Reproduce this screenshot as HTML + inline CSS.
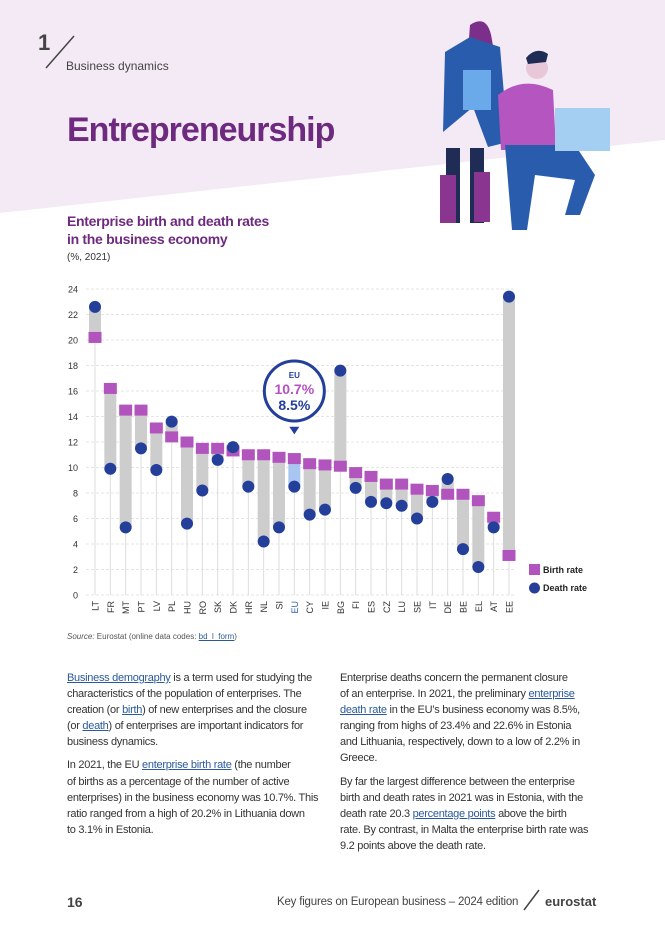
<!DOCTYPE html>
<html><head><meta charset="utf-8">
<style>
body{margin:0;width:665px;height:944px;position:relative;background:#fff;font-family:"Liberation Sans",sans-serif;overflow:hidden}
.abs{position:absolute}
p{margin:0}
.col{position:absolute;font-size:11px;line-height:16.1px;color:#333;letter-spacing:-0.28px;white-space:nowrap}
a{color:#2a5a9a;text-decoration:underline}
</style></head><body>
<svg class="abs" style="left:0;top:0" width="665" height="260">
<polygon points="0,0 665,0 665,140 0,213" fill="#f4eaf5"/>
<line x1="46" y1="68" x2="74" y2="36" stroke="#444" stroke-width="1.5"/>
<g>
<path d="M470,25 q18,-12 22,15 l5,30 -30,-5z" fill="#7b2f8a"/>
<path d="M445,52 l25,-15 l30,10 l8,95 l-20,5 l-15,-40 l-30,25z" fill="#2a5cad"/>
<rect x="463" y="70" width="28" height="40" fill="#6aa9ea"/>
<rect x="446" y="148" width="14" height="75" fill="#1f2c55"/>
<rect x="470" y="148" width="14" height="75" fill="#1f2c55"/>
<rect x="440" y="175" width="16" height="48" fill="#8a3590"/>
<rect x="474" y="172" width="16" height="50" fill="#8a3590"/>
<circle cx="537" cy="68" r="11" fill="#e8c8d8"/>
<path d="M526,58 q10,-12 22,-4 l-2,8 -18,2z" fill="#1f2c55"/>
<path d="M498,95 q25,-20 55,-5 l3,60 -55,0z" fill="#b455c0"/>
<path d="M505,145 l70,0 l20,30 l-15,40 l-15,0 l10,-35 l-40,-5 l-8,55 l-15,0z" fill="#2a5cad"/>
<rect x="555" y="108" width="55" height="43" fill="#a5cff2"/>
</g>
</svg>
<div class="abs" style="left:38px;top:30px;font-size:22px;font-weight:bold;color:#444">1</div>
<div class="abs" style="left:66px;top:59px;font-size:12px;color:#444">Business dynamics</div>
<div class="abs" style="left:67px;top:111px;font-size:34px;font-weight:bold;color:#6e2a7e;letter-spacing:-1px">Entrepreneurship</div>
<div class="abs" style="left:67px;top:212px;font-size:14px;font-weight:bold;color:#6e2a7e;line-height:18px;letter-spacing:-0.3px">Enterprise birth and death rates<br>in the business economy</div>
<div class="abs" style="left:67px;top:252px;font-size:10px;color:#333">(%, 2021)</div>

<svg id="chart" class="abs" style="left:0;top:270px" width="665" height="370"></svg>

<div class="abs" style="left:67px;top:632px;font-size:8px;color:#555"><i>Source:</i> Eurostat (online data codes: <a>bd_l_form</a>)</div>

<div class="col" style="left:67px;top:670px;width:262px">
<p style="margin-bottom:7px"><a>Business demography</a> is a term used for studying the<br>characteristics of the population of enterprises. The<br>creation (or <a>birth</a>) of new enterprises and the closure<br>(or <a>death</a>) of enterprises are important indicators for<br>business dynamics.</p>
<p>In 2021, the EU <a>enterprise birth rate</a> (the number<br>of births as a percentage of the number of active<br>enterprises) in the business economy was 10.7%. This<br>ratio ranged from a high of 20.2% in Lithuania down<br>to 3.1% in Estonia.</p>
</div>
<div class="col" style="left:340px;top:670px;width:262px">
<p style="margin-bottom:7px">Enterprise deaths concern the permanent closure<br>of an enterprise. In 2021, the preliminary <a>enterprise<br>death rate</a> in the EU’s business economy was 8.5%,<br>ranging from highs of 23.4% and 22.6% in Estonia<br>and Lithuania, respectively, down to a low of 2.2% in<br>Greece.</p>
<p>By far the largest difference between the enterprise<br>birth and death rates in 2021 was in Estonia, with the<br>death rate 20.3 <a>percentage points</a> above the birth<br>rate. By contrast, in Malta the enterprise birth rate was<br>9.2 points above the death rate.</p>
</div>
<div class="abs" style="left:67px;top:894px;font-size:14px;font-weight:bold;color:#444">16</div>
<div class="abs" style="left:277px;top:896px;font-size:11.5px;letter-spacing:-0.2px;color:#444;white-space:nowrap">Key figures on European business – 2024 edition</div>
<svg class="abs" style="left:522px;top:888px" width="20" height="24"><line x1="2" y1="22" x2="17" y2="2" stroke="#444" stroke-width="1.5"/></svg>
<div class="abs" style="left:545px;top:894px;font-size:13px;font-weight:bold;color:#444">eurostat</div>

<script>
const countries=["LT","FR","MT","PT","LV","PL","HU","RO","SK","DK","HR","NL","SI","EU","CY","IE","BG","FI","ES","CZ","LU","SE","IT","DE","BE","EL","AT","EE"];
const birthRates=[20.2,16.2,14.5,14.5,13.1,12.4,12.0,11.5,11.5,11.3,11.0,11.0,10.8,10.7,10.3,10.2,10.1,9.6,9.3,8.7,8.7,8.3,8.2,7.9,7.9,7.4,6.1,3.1];
const deathRates=[22.6,9.9,5.3,11.5,9.8,13.6,5.6,8.2,10.6,11.6,8.5,4.2,5.3,8.5,6.3,6.7,17.6,8.4,7.3,7.2,7.0,6.0,7.3,9.1,3.6,2.2,5.3,23.4];
const yTicks=[0,2,4,6,8,10,12,14,16,18,20,22,24];
const NS="http://www.w3.org/2000/svg";
const svg=document.getElementById('chart');
const y0=325,yTop=19,yMax=24;
const y=v=>y0-(v/yMax)*(y0-yTop);
const x=i=>95+i*(509-95)/(countries.length-1);
function mk(t,a){const e=document.createElementNS(NS,t);for(const k in a)e.setAttribute(k,a[k]);svg.appendChild(e);return e;}
yTicks.forEach(t=>{
  const g=mk('line',{x1:86,x2:516,y1:y(t),y2:y(t),stroke:'#ddd','stroke-dasharray':'3,2','stroke-width':0.8});
  
  
  const l=mk('text',{x:78,y:y(t)+3.5,'text-anchor':'end','font-size':9,fill:'#333'});
  l.textContent=t;
  
  
});
countries.forEach((c,i)=>{
  const b=birthRates[i],d=deathRates[i],lo=Math.min(b,d),hi=Math.max(b,d),cx=x(i);
  const st=mk('line',{x1:cx,x2:cx,y1:y0,y2:y(lo),stroke:'#ddd','stroke-width':1});
  
  
  const r=mk('rect',{x:cx-6,y:y(hi),width:12,height:y(lo)-y(hi),fill:c==='EU'?'#a9c6f0':'#cdcdcd'});
  
  
  const s=mk('rect',{x:cx-6.5,y:y(b)-5.5,width:13,height:11,fill:'#b254bd'});
  
  
  const ci=mk('circle',{cx:cx,cy:y(d),r:6,fill:'#233f9a'});
  
  
  const tl=mk('text',{x:0,y:0,'font-size':9,fill:c==='EU'?'#2a5cad':'#333','text-anchor':'end',transform:`translate(${cx+3.5},${y0+6}) rotate(-90)`});
  tl.textContent=c;
  
  
});
const ei=countries.indexOf('EU'),ex=x(ei);
const cb=mk('path',{d:`M${ex-5},${y(13.2)} L${ex},${y(12.6)} L${ex+5},${y(13.2)}Z`,fill:'#233f9a'});


const cc=mk('circle',{cx:ex,cy:y(16),r:30,fill:'#fff',stroke:'#233f9a','stroke-width':3});


const t1=mk('text',{x:ex,y:y(16)-13,'text-anchor':'middle','font-size':8,'font-weight':'bold',fill:'#233f9a'});t1.textContent='EU';


const t2=mk('text',{x:ex,y:y(16)+3,'text-anchor':'middle','font-size':14,'font-weight':'bold',fill:'#b254bd'});t2.textContent=birthRates[ei].toFixed(1)+'%';


const t3=mk('text',{x:ex,y:y(16)+19,'text-anchor':'middle','font-size':14,'font-weight':'bold',fill:'#233f9a'});t3.textContent=deathRates[ei].toFixed(1)+'%';


const ls=mk('rect',{x:529,y:294,width:11,height:11,fill:'#b254bd'});


const lt=mk('text',{x:543,y:303,'font-size':9,'font-weight':'bold',fill:'#222'});lt.textContent='Birth rate';


const lc=mk('circle',{cx:534.5,cy:318,r:5.5,fill:'#233f9a'});


const lt2=mk('text',{x:543,y:321,'font-size':9,'font-weight':'bold',fill:'#222'});lt2.textContent='Death rate';


</script>
</body></html>
